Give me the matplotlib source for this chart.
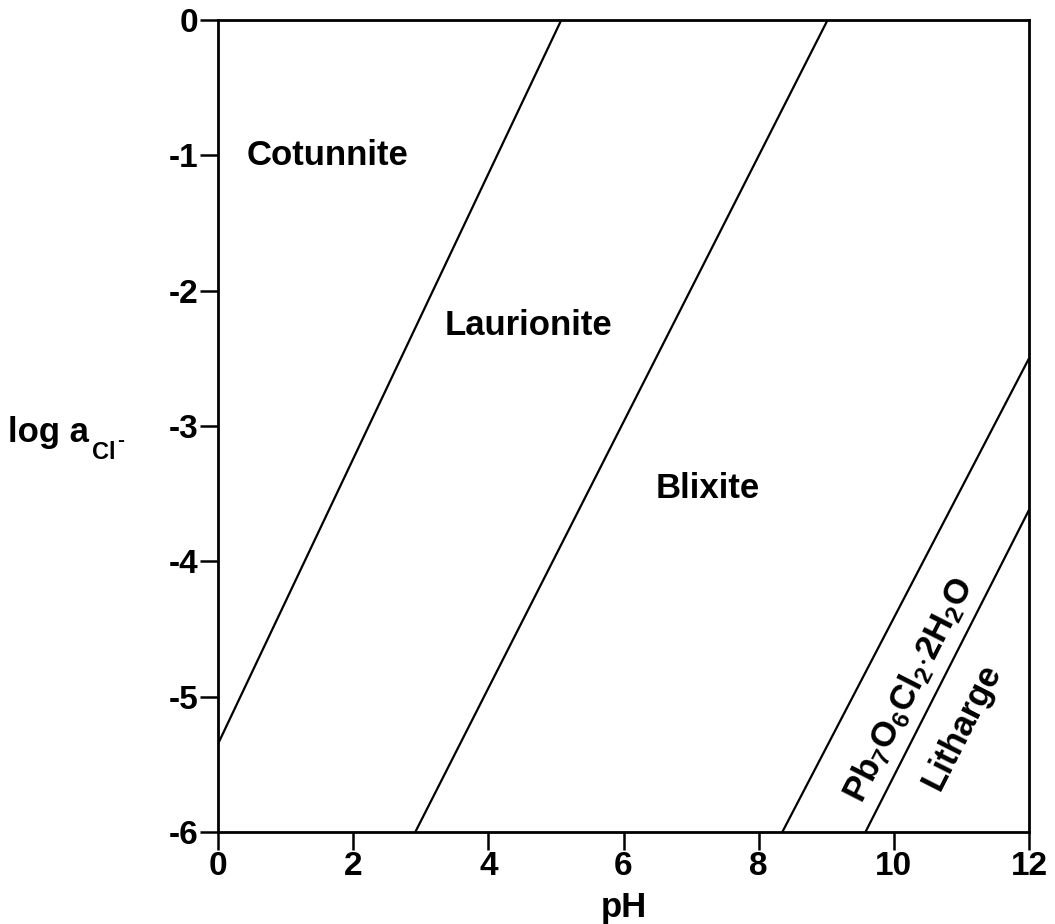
import numpy as np
import matplotlib
matplotlib.use("Agg")
import matplotlib.pyplot as plt

plt.rcParams['font.family'] = ['Liberation Sans', 'DejaVu Sans']
plt.rcParams['font.weight'] = 'bold'
plt.rcParams['mathtext.fontset'] = 'custom'
plt.rcParams['mathtext.rm'] = 'Liberation Sans:bold'
plt.rcParams['mathtext.bf'] = 'Liberation Sans:bold'
plt.rcParams['mathtext.it'] = 'Liberation Sans:bold'

# phase boundaries (pH, log a_Cl-) end points
cot_lau_ph = [0.0, 5.08]
cot_lau_cl = [-5.35, 0.0]
lau_bli_ph = [2.92, 9.02]
lau_bli_cl = [-6.0, 0.0]
bli_pb7_ph = [8.35, 12.0]
bli_pb7_cl = [-6.0, -2.5]
pb7_lit_ph = [9.58, 12.0]
pb7_lit_cl = [-6.0, -3.62]

# field labels: text, pH, log a
fields = ["Cotunnite", "Laurionite", "Blixite",
          r"$\mathrm{Pb_7O_6Cl_2{\cdot}2H_2O}$", "Litharge"]
field_ph = [0.43, 4.6, 7.25, 10.22, 11.0]
field_cl = [-1.0, -2.26, -3.46, -4.95, -5.22]
field_tilt = [False, False, False, True, True]
field_ha = ["left", "center", "center", "center", "center"]

xticks = [0, 2, 4, 6, 8, 10, 12]
yticks = [0, -1, -2, -3, -4, -5, -6]

fig = plt.figure(figsize=(10.55, 9.24), dpi=100)
ax = fig.add_axes([0.2066, 0.0996, 0.7688, 0.8788])

for xs, ys in [(cot_lau_ph, cot_lau_cl), (lau_bli_ph, lau_bli_cl),
               (bli_pb7_ph, bli_pb7_cl), (pb7_lit_ph, pb7_lit_cl)]:
    ax.plot(xs, ys, color='black', lw=1.6, solid_capstyle='butt')

ax.set_xlim(0, 12)
ax.set_ylim(-6, 0)

# angle of the steep boundary on screen, for the tilted labels
p0 = ax.transData.transform((pb7_lit_ph[0], pb7_lit_cl[0]))
p1 = ax.transData.transform((pb7_lit_ph[1], pb7_lit_cl[1]))
tilt = np.degrees(np.arctan2(p1[1] - p0[1], p1[0] - p0[0]))

for t, x, y, tl, ha in zip(fields, field_ph, field_cl, field_tilt, field_ha):
    ax.text(x, y, t, fontsize=25, fontweight='bold',
            rotation=tilt if tl else 0,
            ha=ha, va='center', rotation_mode='anchor')

ax.set_xticks(xticks)
ax.set_yticks(yticks)
ax.set_xticklabels([str(v) for v in xticks])
ax.set_yticklabels(['0'] + ['-%d' % -v for v in yticks[1:]])
ax.tick_params(direction='out', length=13, width=1.8, labelsize=24, pad=1)
for lab in ax.get_xticklabels() + ax.get_yticklabels():
    lab.set_fontweight('bold')
for s in ax.spines.values():
    s.set_linewidth(2.0)

ax.set_xlabel('pH', fontsize=25, fontweight='bold', labelpad=6)

# y label: log a with subscript Cl and a minus sign
W, H = fig.get_size_inches() * fig.dpi
ybase = 1 - 442 / H
t1 = fig.text(8 / W, ybase, 'log a', fontsize=25, fontweight='bold',
              ha='left', va='baseline')
r = fig.canvas.get_renderer()
e1 = t1.get_window_extent(r)
t2 = fig.text((e1.x1 + 3) / W, ybase - 17 / H, 'Cl', fontsize=17,
              fontweight='bold', ha='left', va='baseline')
e2 = t2.get_window_extent(r)
fig.text((e2.x1 + 2) / W, ybase - 4 / H, '-', fontsize=15,
         fontweight='bold', ha='left', va='baseline')

fig.savefig('out.png', dpi=100)
